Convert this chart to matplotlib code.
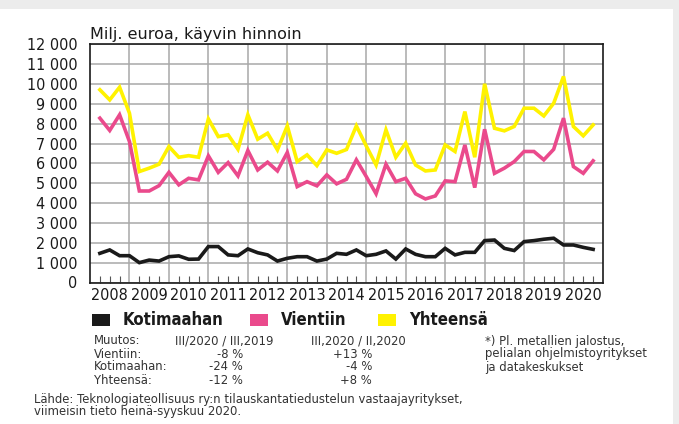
import matplotlib
matplotlib.use("Agg")
import matplotlib.pyplot as plt
from matplotlib.patches import Rectangle
import numpy as np

plt.rcParams['font.family'] = ['DejaVu Sans']

# Neljännesvuosittain 2008 Q1 - 2020 Q3, milj. euroa
years = list(range(2008, 2021))
kotimaahan = [1470, 1640, 1350, 1350, 1000, 1130, 1080, 1300, 1340, 1170, 1180, 1810,
              1810, 1390, 1350, 1690, 1500, 1390, 1080, 1220, 1300, 1300, 1080, 1180,
              1470, 1420, 1640, 1350, 1420, 1590, 1180, 1690, 1420, 1300, 1300, 1720,
              1390, 1520, 1520, 2110, 2140, 1720, 1610, 2060, 2110, 2180, 2230, 1890,
              1890, 1770, 1670]
vientiin = [8280, 7660, 8450, 7100, 4610, 4610, 4880, 5550, 4920, 5250, 5170, 6380,
            5550, 6040, 5370, 6650, 5670, 6060, 5620, 6550, 4830, 5080, 4870, 5420,
            4970, 5200, 6180, 5340, 4470, 5960, 5080, 5250, 4470, 4210, 4360, 5120,
            5080, 6930, 4780, 7720, 5500, 5760, 6090, 6600, 6600, 6180, 6710, 8280,
            5840, 5500, 6130]
yhteensa = [9710, 9200, 9840, 8530, 5590, 5760, 5960, 6850, 6310, 6390, 6310, 8240,
            7350, 7440, 6710, 8450, 7220, 7520, 6680, 7890, 6090, 6430, 5890, 6680,
            6510, 6700, 7890, 6880, 5920, 7690, 6310, 7020, 5920, 5620, 5670, 6930,
            6600, 8610, 6310, 10010, 7770, 7640, 7860, 8780, 8780, 8390, 9030, 10380,
            7860, 7390, 7940]

muutos_rivit = ["Vientiin:", "Kotimaahan:", "Yhteensä:"]
muutos_vuosi = ["-8 %", "-24 %", "-12 %"]
muutos_neljannes = ["+13 %", "-4 %", "+8 %"]

musta = '#1a1a1a'
pinkki = '#ea4a8c'
keltainen = '#fff200'
tekstivari = '#333333'
pieni = 8.4

fig = plt.figure(figsize=(6.79, 4.24), dpi=100)
# harmaa reunus oikealla ja ylhäällä
fig.patches.append(Rectangle((0, 0), 1, 1, transform=fig.transFigure,
                             facecolor='#ececec', edgecolor='none', zorder=-2))
fig.patches.append(Rectangle((0, 0), 673 / 679, 1 - 9 / 424, transform=fig.transFigure,
                             facecolor='white', edgecolor='none', zorder=-1))

ax = fig.add_axes([90 / 679, 1 - 282.5 / 424, 513 / 679, 238.2 / 424])
x = np.arange(len(kotimaahan))
ax.plot(x, kotimaahan, color=musta, lw=2.6, solid_joinstyle='miter', zorder=3)
ax.plot(x, vientiin, color=pinkki, lw=2.6, solid_joinstyle='miter', zorder=3)
ax.plot(x, yhteensa, color=keltainen, lw=2.6, solid_joinstyle='miter', zorder=3)

ax.set_xlim(-1, 51)
ax.set_ylim(0, 12000)
ax.set_yticks(np.arange(0, 12001, 1000))
ax.set_yticklabels([f"{v:,}".replace(",", " ") for v in range(0, 12001, 1000)],
                   fontsize=11.5, fontstretch='condensed', color=musta)
ax.tick_params(axis='y', length=0, pad=9)

# vuosiviivat neljännen neljänneksen kohdalla
ax.set_xticks([4 * k + 3 for k in range(12)])
ax.set_xticklabels([])
ax.tick_params(axis='x', length=0)
ax.set_xticks([i for i in range(51) if i % 4 != 3], minor=True)
ax.tick_params(axis='x', which='minor', direction='in', length=5, width=0.8, color='#555555')
ax.grid(True, which='major', color='#a8a8a8', lw=1.1, zorder=1)
for k, yr in enumerate(years):
    ax.text(4 * k + 1, -300, str(yr), ha='center', va='top', fontsize=11.5,
            fontstretch='condensed', color=musta)

for s in ax.spines.values():
    s.set_color(musta)
    s.set_linewidth(1.2)

fig.text(90 / 679, 1 - 34 / 424, "Milj. euroa, käyvin hinnoin", fontsize=11.5,
         color=musta, va='center', ha='left')

# selite
legend_items = [("Kotimaahan", musta, 92), ("Vientiin", pinkki, 250), ("Yhteensä", keltainen, 378)]
for nimi, vari, px in legend_items:
    fig.patches.append(Rectangle((px / 679, 1 - 326 / 424), 18 / 679, 12 / 424,
                                 transform=fig.transFigure, facecolor=vari, edgecolor='none'))
    fig.text((px + 31) / 679, 1 - 320 / 424, nimi, fontsize=12, fontweight='bold',
             fontstretch='condensed', color=musta, va='center', ha='left')

# muutostaulukko
rivi_y = [341, 354, 367, 381]
fig.text(94 / 679, 1 - rivi_y[0] / 424, "Muutos:", fontsize=pieni, color=tekstivari, va='center')
fig.text(224 / 679, 1 - rivi_y[0] / 424, "III/2020 / III,2019", fontsize=pieni,
         color=tekstivari, va='center', ha='center')
fig.text(358 / 679, 1 - rivi_y[0] / 424, "III,2020 / II,2020", fontsize=pieni,
         color=tekstivari, va='center', ha='center')
for i, nimi in enumerate(muutos_rivit):
    yy = 1 - rivi_y[i + 1] / 424
    fig.text(94 / 679, yy, nimi, fontsize=pieni, color=tekstivari, va='center')
    fig.text(243 / 679, yy, muutos_vuosi[i], fontsize=pieni, color=tekstivari, va='center', ha='right')
    fig.text(372 / 679, yy, muutos_neljannes[i], fontsize=pieni, color=tekstivari, va='center', ha='right')

alaviite = ["*) Pl. metallien jalostus,", "pelialan ohjelmistoyritykset", "ja datakeskukset"]
for i, rivi in enumerate(alaviite):
    fig.text(485 / 679, 1 - rivi_y[i] / 424, rivi, fontsize=pieni, color=tekstivari, va='center')

fig.text(34 / 679, 1 - 399 / 424,
         "Lähde: Teknologiateollisuus ry:n tilauskantatiedustelun vastaajayritykset,",
         fontsize=pieni, color=tekstivari, va='center')
fig.text(34 / 679, 1 - 412 / 424, "viimeisin tieto heinä-syyskuu 2020.",
         fontsize=pieni, color=tekstivari, va='center')

fig.savefig("out.png", dpi=100)
